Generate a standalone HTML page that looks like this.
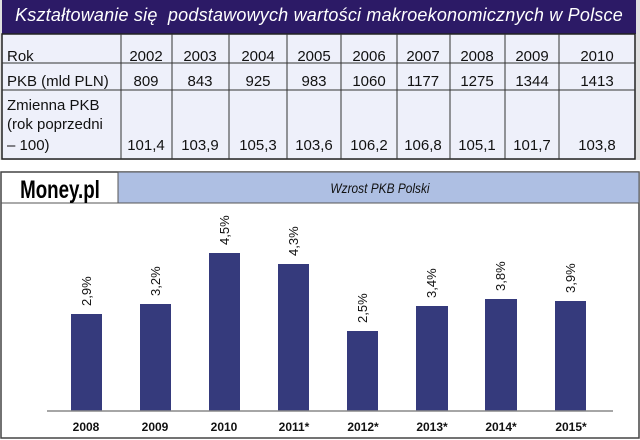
<!DOCTYPE html>
<html><head><meta charset="utf-8"><style>
body{margin:0;width:640px;height:440px;background:#fff;position:relative;overflow:hidden;font-family:"Liberation Sans",sans-serif}
.a{position:absolute}
</style></head><body>
<div class="a" style="left:0;top:0;width:640px;height:160px;background:#e0e0e0"></div>
<div class="a" style="left:2px;top:0;width:634px;height:34px;background:#2c1a66"></div>
<div class="a" style="left:2px;top:5px;width:634px;text-align:center;color:#fff;font-style:italic;font-size:18px;letter-spacing:0.2px">Kształtowanie się&nbsp; podstawowych wartości makroekonomicznych w Polsce</div>
<svg class="a" style="left:0;top:0" width="640" height="440">
<rect x="2" y="34" width="633" height="125" fill="#eef0fa" stroke="#222" stroke-width="1.5"/>
<g stroke="#333" stroke-width="1">
<line x1="2" y1="63" x2="635" y2="63"/><line x1="2" y1="90" x2="635" y2="90"/>
<line x1="121" y1="34" x2="121" y2="159"/><line x1="172" y1="34" x2="172" y2="159"/>
<line x1="229" y1="34" x2="229" y2="159"/><line x1="287" y1="34" x2="287" y2="159"/>
<line x1="341" y1="34" x2="341" y2="159"/><line x1="397" y1="34" x2="397" y2="159"/>
<line x1="450" y1="34" x2="450" y2="159"/><line x1="505" y1="34" x2="505" y2="159"/>
<line x1="559" y1="34" x2="559" y2="159"/>
</g>
<g font-family="Liberation Sans,sans-serif" font-size="15" fill="#111">
<text x="7" y="61">Rok</text><text x="7" y="86">PKB (mld PLN)</text>
<text x="7" y="110">Zmienna PKB</text><text x="7" y="129">(rok poprzedni</text><text x="7" y="150"> – 100)</text>
</g>
<g font-family="Liberation Sans,sans-serif" font-size="15" fill="#111" text-anchor="middle">
<text x="146" y="61">2002</text><text x="200" y="61">2003</text><text x="258" y="61">2004</text><text x="314" y="61">2005</text><text x="369" y="61">2006</text><text x="423" y="61">2007</text><text x="477" y="61">2008</text><text x="532" y="61">2009</text><text x="597" y="61">2010</text>
<text x="146" y="86">809</text><text x="200" y="86">843</text><text x="258" y="86">925</text><text x="314" y="86">983</text><text x="369" y="86">1060</text><text x="423" y="86">1177</text><text x="477" y="86">1275</text><text x="532" y="86">1344</text><text x="597" y="86">1413</text>
<text x="146" y="150">101,4</text><text x="200" y="150">103,9</text><text x="258" y="150">105,3</text><text x="314" y="150">103,6</text><text x="369" y="150">106,2</text><text x="423" y="150">106,8</text><text x="477" y="150">105,1</text><text x="532" y="150">101,7</text><text x="597" y="150">103,8</text>
</g>
<rect x="1" y="172" width="638" height="266" fill="#fff" stroke="#444" stroke-width="1.5"/>
<rect x="118" y="172" width="521" height="31" fill="#aebfe3" stroke="#555" stroke-width="1"/>
<line x1="1" y1="203" x2="639" y2="203" stroke="#555"/>
<text x="60" y="198" text-anchor="middle" font-family="Liberation Sans,sans-serif" font-weight="bold" font-size="25" fill="#000" transform="translate(60 0) scale(0.75 1) translate(-60 0)">Money.pl</text>
<text x="380" y="193" text-anchor="middle" font-family="Liberation Sans,sans-serif" font-style="italic" font-size="14" fill="#111" transform="translate(380 0) scale(0.85 1) translate(-380 0)">Wzrost PKB Polski</text>
<g fill="#353a7c">
<rect x="71" y="314" width="31" height="97"/><rect x="140" y="304" width="31" height="107"/>
<rect x="209" y="253" width="31" height="158"/><rect x="278" y="264" width="31" height="147"/>
<rect x="347" y="331" width="31" height="80"/><rect x="416" y="306" width="32" height="105"/>
<rect x="485" y="299" width="32" height="112"/><rect x="555" y="301" width="31" height="110"/>
</g>
<line x1="47" y1="411" x2="613" y2="411" stroke="#888" stroke-width="1.5"/>
<g font-family="Liberation Sans,sans-serif" font-size="13" fill="#111">
<text transform="translate(91 306) rotate(-90)">2,9%</text>
<text transform="translate(160 296) rotate(-90)">3,2%</text>
<text transform="translate(229 245) rotate(-90)">4,5%</text>
<text transform="translate(298 256) rotate(-90)">4,3%</text>
<text transform="translate(367 323) rotate(-90)">2,5%</text>
<text transform="translate(436 298) rotate(-90)">3,4%</text>
<text transform="translate(505 291) rotate(-90)">3,8%</text>
<text transform="translate(575 293) rotate(-90)">3,9%</text>
</g>
<g font-family="Liberation Sans,sans-serif" font-weight="bold" font-size="12" fill="#111" text-anchor="middle">
<text x="86" y="431">2008</text><text x="155" y="431">2009</text><text x="224" y="431">2010</text><text x="294" y="431">2011*</text><text x="363" y="431">2012*</text><text x="432" y="431">2013*</text><text x="501" y="431">2014*</text><text x="571" y="431">2015*</text>
</g>
</svg>
</body></html>
